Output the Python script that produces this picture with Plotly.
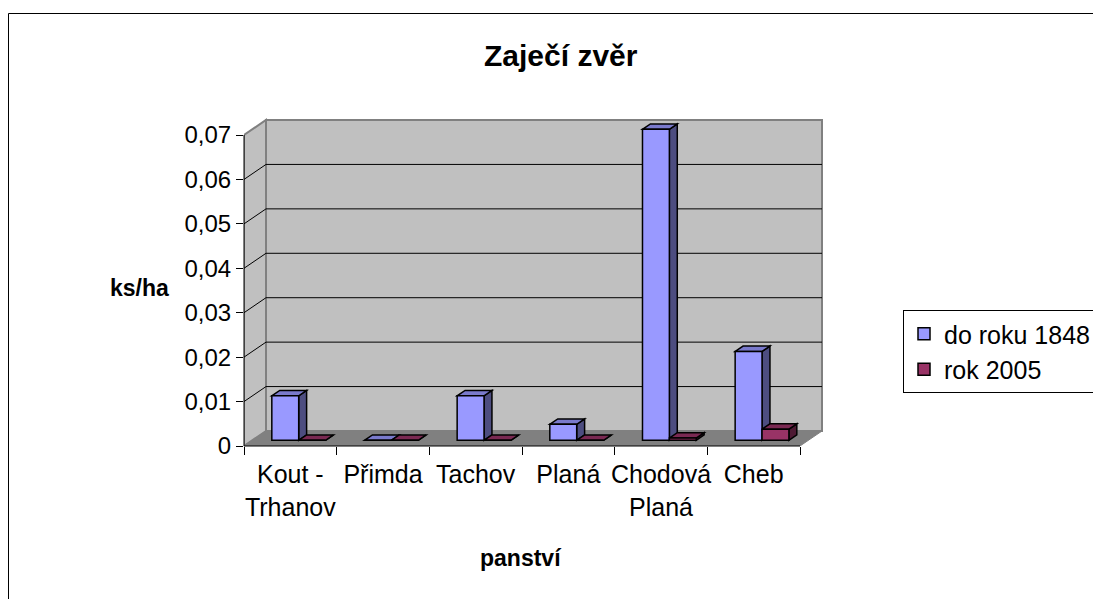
import plotly.graph_objects as go

# data (ks/ha)
panstvi = ["Kout -<br>Trhanov", "Přimda", "Tachov", "Planá", "Chodová<br>Planá", "Cheb"]
do_roku_1848 = [0.01, 0.0, 0.01, 0.0036, 0.07, 0.02]
rok_2005 = [0.0, 0.0, 0.0, 0.0, 0.0005, 0.0025]
y_ticks = [0, 0.01, 0.02, 0.03, 0.04, 0.05, 0.06, 0.07]
y_ticktext = ["0", "0,01", "0,02", "0,03", "0,04", "0,05", "0,06", "0,07"]

FONT = "Arial, Liberation Sans, sans-serif"

# pseudo 3D geometry (Excel style)
W, H = 1101, 599
OFF = 7  # page offset of the figure div
left_px, front_right_px, zero_px, top_px = 243 - OFF, 799 - OFF, 445 - OFF, 134 - OFF
ppx = (front_right_px - left_px) / len(panstvi)
ppy = (zero_px - top_px) / 0.07
DX = 22 / ppx
DY = 15 / ppy
pad = 3
x_rng = [-0.5, len(panstvi) - 0.5 + DX + pad / ppx]
y_rng = [0, 0.07 + DY + pad / ppy]
plot_w = (x_rng[1] - x_rng[0]) * ppx
plot_h = y_rng[1] * ppy
m_t = zero_px - plot_h
m_r = W - left_px - plot_w


def px_x(p):
    return (p - OFF - left_px) / plot_w


def px_y(p):
    return (zero_px - (p - OFF)) / plot_h


bw = 0.29  # bar width (category units)
f0, fd = 0.38, 0.36  # bar front depth, bar depth (fraction of wall depth)
bx0, by0 = f0 * DX, f0 * DY
bdx, bdy = fd * DX, fd * DY

series = [
    ("do roku 1848", do_roku_1848, -bw, "#9999FF", "#4D4D80", "#7A7ACC"),
    ("rok 2005", rok_2005, 0.0, "#993366", "#4D1A33", "#7A2952"),
]

shapes = []
# chart border
shapes.append(dict(type="rect", xref="paper", yref="paper",
                   x0=px_x(7.5), x1=px_x(1125), y0=px_y(620), y1=px_y(12.5),
                   line=dict(color="black", width=1), layer="below"))
x_l, x_r = -0.5, len(panstvi) - 0.5
# side wall
shapes.append(dict(type="path", layer="below",
                   path=f"M {x_l},0 L {x_l + DX},{DY} L {x_l + DX},{0.07 + DY} L {x_l},0.07 Z",
                   fillcolor="#C0C0C0", line=dict(color="#808080", width=2)))
# back wall
shapes.append(dict(type="rect", layer="below", x0=x_l + DX, x1=x_r + DX, y0=DY, y1=0.07 + DY,
                   fillcolor="#C0C0C0", line=dict(color="#808080", width=2)))
# floor
shapes.append(dict(type="path", layer="below",
                   path=f"M {x_l},0 L {x_r},0 L {x_r + DX},{DY} L {x_l + DX},{DY} Z",
                   fillcolor="#808080", line=dict(color="#808080", width=1)))
# gridlines on back wall and side wall
for v in y_ticks[1:-1]:
    shapes.append(dict(type="line", layer="below", x0=x_l + DX, x1=x_r + DX, y0=v + DY, y1=v + DY,
                       line=dict(color="black", width=1)))
    shapes.append(dict(type="line", layer="below", x0=x_l, x1=x_l + DX, y0=v, y1=v + DY,
                       line=dict(color="black", width=1)))

# bar side and top faces
for name, vals, off, c_front, c_side, c_top in series:
    for i, v in enumerate(vals):
        x0 = i + off + bx0
        x1 = x0 + bw
        yb, yt = by0, by0 + v
        shapes.append(dict(type="path", layer="below",
                           path=f"M {x1},{yb} L {x1},{yt} L {x1 + bdx},{yt + bdy} L {x1 + bdx},{yb + bdy} Z",
                           fillcolor=c_side, line=dict(color="black", width=1.5)))
        shapes.append(dict(type="path", layer="below",
                           path=f"M {x0},{yt} L {x1},{yt} L {x1 + bdx},{yt + bdy} L {x0 + bdx},{yt + bdy} Z",
                           fillcolor=c_top, line=dict(color="black", width=1.5)))

# front axis lines
shapes.append(dict(type="line", xref="paper", yref="y", x0=0, x1=0, y0=0, y1=0.07,
                   line=dict(color="black", width=1)))
shapes.append(dict(type="line", xref="x", yref="paper", x0=x_l, x1=x_r, y0=0, y1=0,
                   line=dict(color="black", width=1)))

fig = go.Figure()
for name, vals, off, c_front, c_side, c_top in series:
    fig.add_trace(go.Bar(
        x=panstvi, y=vals, base=by0, name=name,
        offset=off + bx0, width=bw,
        marker=dict(color=c_front, line=dict(color="black", width=1.5)),
        legendgroup=name,
    ))

fig.update_layout(
    width=W, height=H,
    margin=dict(l=left_px, r=m_r, t=m_t, b=H - zero_px, pad=0, autoexpand=False),
    paper_bgcolor="white", plot_bgcolor="white",
    barmode="overlay",
    font=dict(family=FONT, size=24, color="black"),
    shapes=shapes,
    showlegend=True,
    legend=dict(x=px_x(902), y=px_y(309), xanchor="left", yanchor="top",
                bordercolor="black", borderwidth=1, bgcolor="white",
                font=dict(size=25), itemwidth=30, tracegroupgap=7,
                traceorder="normal"),
    xaxis=dict(type="category", range=x_rng, tickson="boundaries", ticks="outside",
               ticklen=8, tickcolor="black", showgrid=False, showline=False, zeroline=False,
               tickangle=0, tickfont=dict(size=25), ticklabelstandoff=11,
               automargin=False, fixedrange=True),
    yaxis=dict(range=y_rng, tickmode="array", tickvals=y_ticks, ticktext=y_ticktext,
               ticks="outside", ticklen=7, tickcolor="black", showgrid=False,
               showline=False, zeroline=False, automargin=False, fixedrange=True),
    annotations=[
        dict(text="<b>Zaječí zvěr</b>", xref="paper", yref="paper", x=px_x(560), y=px_y(55),
             showarrow=False, font=dict(size=30), xanchor="center", yanchor="middle"),
        dict(text="<b>ks/ha</b>", xref="paper", yref="paper", x=px_x(138), y=px_y(287),
             showarrow=False, font=dict(size=23), xanchor="center", yanchor="middle"),
        dict(text="<b>panství</b>", xref="paper", yref="paper", x=px_x(520), y=px_y(557),
             showarrow=False, font=dict(size=23), xanchor="center", yanchor="middle"),
    ],
)

fig.write_html("out.html")
